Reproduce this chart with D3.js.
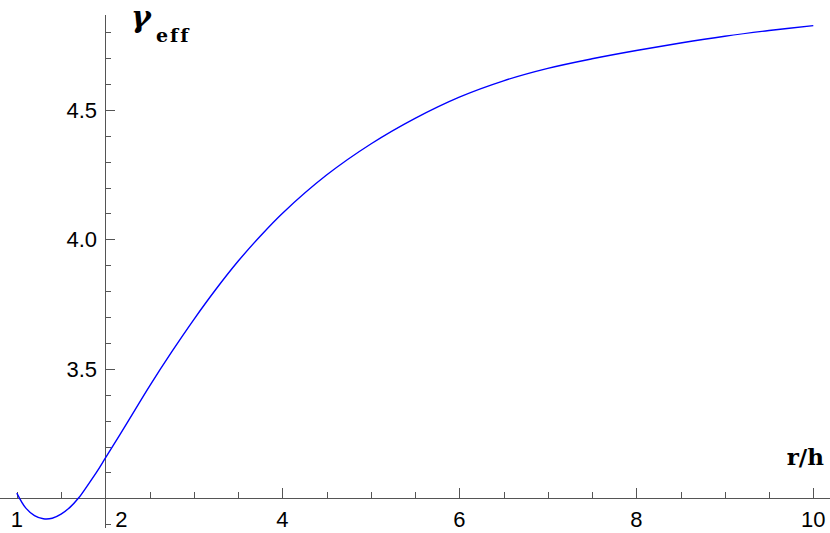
<!DOCTYPE html>
<html>
<head>
<meta charset="utf-8">
<script src="https://cdn.jsdelivr.net/npm/d3@7"></script>
<style>
  body { margin: 0; background: #fff; }
  svg { display: block; }
</style>
</head>
<body>
<div id="chart"></div>
<script>
// curve: r/h against gamma_eff
const rValues = [1.0, 1.1, 1.2, 1.3, 1.4, 1.5, 1.6, 1.7, 1.8, 1.9, 2.0,
    2.25, 2.5, 2.75, 3.0, 3.25, 3.5, 3.75, 4.0, 4.5, 5.0, 5.5, 6.0,
    6.5, 7.0, 7.5, 8.0, 8.5, 9.0, 9.5, 10.0];
const gammaValues = [3.02, 2.963, 2.933, 2.921, 2.923, 2.939, 2.965, 3.002, 3.05, 3.1, 3.155,
    3.293, 3.433, 3.565, 3.69, 3.807, 3.915, 4.012, 4.1, 4.248, 4.368, 4.467, 4.549,
    4.612, 4.66, 4.697, 4.729, 4.758, 4.784, 4.806, 4.825];

const xMajorTicks = [2, 4, 6, 8, 10];
const xLabels = [1, 2, 4, 6, 8, 10];
const yMajorTicks = [3.5, 4.0, 4.5];

const cfg = {
    width: 830,
    height: 533,
    color: "#0000ff",
    axisColor: "#555"
};

const x = d3.scaleLinear()
    .domain([1, 10])
    .range([16.8, 813.3]);

const y = d3.scaleLinear()
    .domain([3, 4.5])
    .range([498.3, 109.8]);

const xMinorTicks = d3.range(1, 10.01, 0.5).filter(d => xMajorTicks.indexOf(d) < 0);
const yMinorTicks = d3.range(29, 49, 1).map(d => d / 10)
    .filter(d => yMajorTicks.indexOf(d) < 0 && d !== 3);

const svg = d3.select("#chart")
    .append("svg")
    .attr("width", cfg.width)
    .attr("height", cfg.height);

const xAxisY = y(3);
const yAxisX = x(2);

// x axis: ticks point up (inside)
svg.append("g")
    .attr("transform", "translate(0," + xAxisY + ")")
    .call(d3.axisBottom(x).tickValues(xMinorTicks).tickSize(-6).tickFormat(""))
    .call(g => g.select(".domain").remove());

svg.append("g")
    .attr("transform", "translate(0," + xAxisY + ")")
    .call(d3.axisBottom(x).tickValues(xMajorTicks).tickSize(-10).tickFormat(""))
    .call(g => g.select(".domain").remove());

svg.append("line")
    .attr("x1", 0).attr("x2", cfg.width)
    .attr("y1", xAxisY).attr("y2", xAxisY);

// y axis: ticks point right
svg.append("g")
    .attr("transform", "translate(" + yAxisX + ",0)")
    .call(d3.axisLeft(y).tickValues(yMinorTicks).tickSize(-6).tickFormat(""))
    .call(g => g.select(".domain").remove());

svg.append("g")
    .attr("transform", "translate(" + yAxisX + ",0)")
    .call(d3.axisLeft(y).tickValues(yMajorTicks).tickSize(-10).tickFormat(""))
    .call(g => g.select(".domain").remove());

svg.append("line")
    .attr("x1", yAxisX).attr("x2", yAxisX)
    .attr("y1", 15).attr("y2", 528);

svg.selectAll("line")
    .attr("stroke", cfg.axisColor)
    .attr("stroke-width", 1)
    .attr("shape-rendering", "crispEdges");

// tick labels
svg.selectAll(".xlab")
    .data(xLabels)
    .enter().append("text")
    .attr("class", "xlab")
    .attr("x", d => x(d) + (d === 2 ? 16 : 0))
    .attr("y", 527)
    .attr("text-anchor", "middle")
    .attr("font-family", "Liberation Sans, Arial, sans-serif")
    .attr("font-size", 22)
    .text(d => d);

svg.selectAll(".ylab")
    .data(yMajorTicks)
    .enter().append("text")
    .attr("class", "ylab")
    .attr("x", 97)
    .attr("y", d => y(d) + 8)
    .attr("text-anchor", "end")
    .attr("font-family", "Liberation Sans, Arial, sans-serif")
    .attr("font-size", 22)
    .text(d3.format(".1f"));

// axis titles
svg.append("text")
    .attr("x", 824)
    .attr("y", 465)
    .attr("text-anchor", "end")
    .attr("font-family", "DejaVu Serif, serif")
    .attr("font-weight", "bold")
    .attr("font-size", 23)
    .text("r/h");

const yTitle = svg.append("text")
    .attr("x", 131)
    .attr("y", 27)
    .attr("font-family", "DejaVu Serif, serif")
    .attr("font-weight", "bold");

yTitle.append("tspan")
    .attr("font-style", "italic")
    .attr("font-size", 30)
    .text("γ");

yTitle.append("tspan")
    .attr("x", 156)
    .attr("y", 41.5)
    .attr("font-size", 19)
    .attr("letter-spacing", 2)
    .text("eff");

// the curve
const line = d3.line()
    .x(d => x(d[0]))
    .y(d => y(d[1]))
    .curve(d3.curveCatmullRom.alpha(0.5));

svg.append("path")
    .datum(d3.zip(rValues, gammaValues))
    .attr("fill", "none")
    .attr("stroke", cfg.color)
    .attr("stroke-width", 1.4)
    .attr("d", line);
</script>
</body>
</html>
